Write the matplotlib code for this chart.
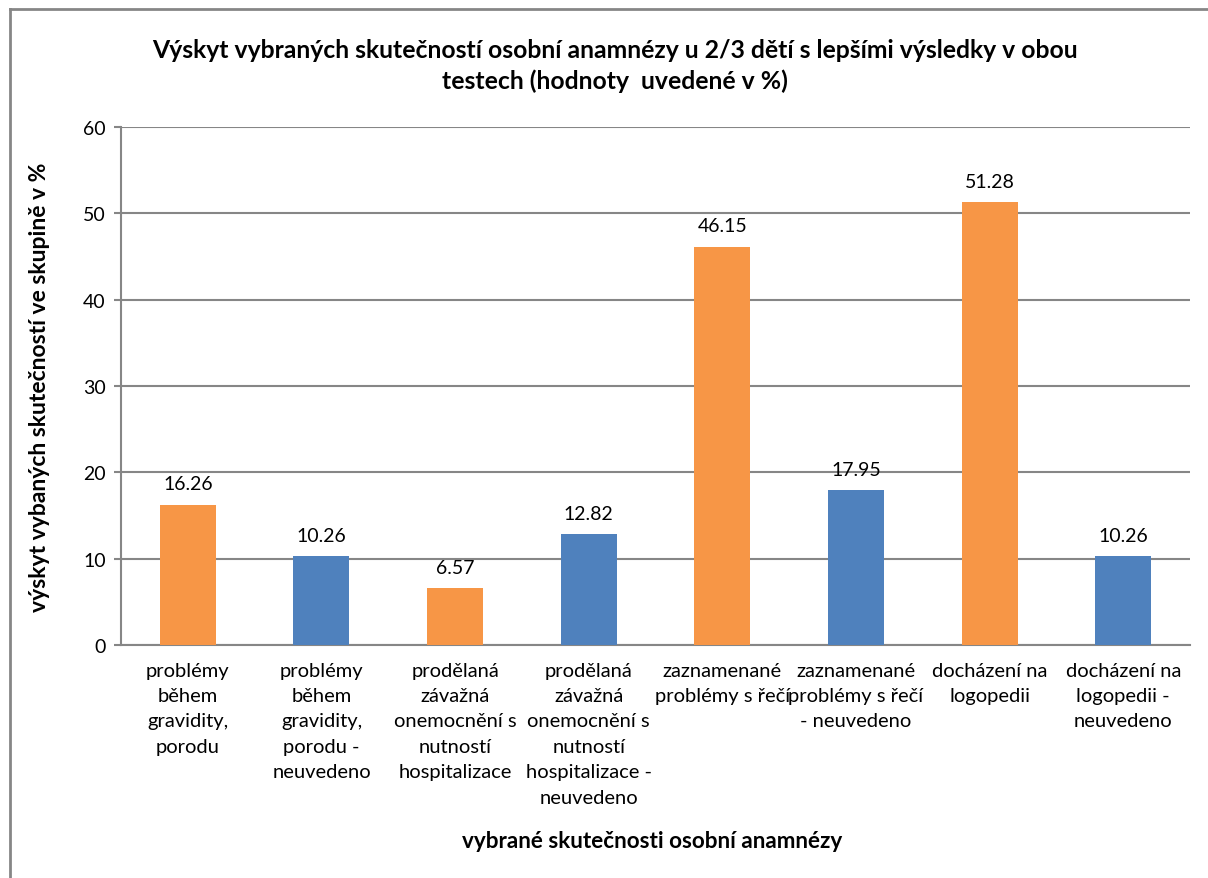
import matplotlib.pyplot as plt
from matplotlib.lines import Line2D

# Data
categories = [
    "problémy\nběhem\ngravidity,\nporodu",
    "problémy\nběhem\ngravidity,\nporodu -\nneuvedeno",
    "prodělaná\nzávažná\nonemocnění s\nnutností\nhospitalizace",
    "prodělaná\nzávažná\nonemocnění s\nnutností\nhospitalizace -\nneuvedeno",
    "zaznamenané\nproblémy s řečí",
    "zaznamenané\nproblémy s řečí\n- neuvedeno",
    "docházení na\nlogopedii",
    "docházení na\nlogopedii -\nneuvedeno",
]
values = [16.26, 10.26, 6.57, 12.82, 46.15, 17.95, 51.28, 10.26]
value_labels = ["16.26", "10.26", "6.57", "12.82", "46.15", "17.95", "51.28", "10.26"]
bar_colors = ["#F79646", "#4F81BD"] * 4
y_ticks = [0, 10, 20, 30, 40, 50, 60]

plt.rcParams['font.family'] = ['Lato', 'DejaVu Sans']

fig = plt.figure(figsize=(12.08, 8.79), dpi=100)
ax = fig.add_axes([121 / 1208, 1 - 646 / 879, (1190 - 121) / 1208, (646 - 128) / 879])

x = list(range(len(categories)))
ax.bar(x, values, width=0.42, color=bar_colors, zorder=3)

for xi, v, lab in zip(x, values, value_labels):
    ax.annotate(lab, (xi, v), xytext=(0, 9), textcoords="offset points",
                ha="center", va="bottom", fontsize=14, color="#000000")

ax.set_xlim(-0.5, len(categories) - 0.5)
ax.set_ylim(0, 60)
ax.set_yticks(y_ticks)
ax.set_yticklabels([str(t) for t in y_ticks], fontsize=14)
ax.set_xticks(x)
ax.set_xticklabels(categories, fontsize=14.5, linespacing=1.6)
ax.tick_params(axis="x", length=0, pad=12)
ax.tick_params(axis="y", length=5, width=1.5, color="#868686", pad=6)

ax.grid(axis="y", color="#868686", linewidth=1.5, zorder=0)
for side in ["top", "right"]:
    ax.spines[side].set_visible(False)
ax.spines["left"].set_color("#868686")
ax.spines["left"].set_linewidth(1.5)
ax.spines["bottom"].set_color("#868686")
ax.spines["bottom"].set_linewidth(1.5)

fig.text(40 / 1208, 1 - 387 / 879, "výskyt vybaných skutečností ve skupině v %", rotation=90,
         ha="center", va="center", fontsize=16.5, fontweight="bold")
fig.text(0.54, 1 - 842 / 879, "vybrané skutečnosti osobní anamnézy", ha="center", va="center",
         fontsize=16.2, fontweight="bold")
fig.text(0.509, 1 - 66 / 879,
         "Výskyt vybraných skutečností osobní anamnézy u 2/3 dětí s lepšími výsledky v obou\ntestech (hodnoty  uvedené v %)",
         ha="center", va="center", fontsize=17.8, fontweight="bold", linespacing=1.4)

# chart border (left and top edges visible)
fig.add_artist(Line2D([10 / 1208, 10 / 1208], [0, 1 - 10 / 879], transform=fig.transFigure,
                      color="#868686", linewidth=2))
fig.add_artist(Line2D([10 / 1208, 1], [1 - 10 / 879, 1 - 10 / 879], transform=fig.transFigure,
                      color="#868686", linewidth=2))

fig.savefig("out.png", dpi=100)
